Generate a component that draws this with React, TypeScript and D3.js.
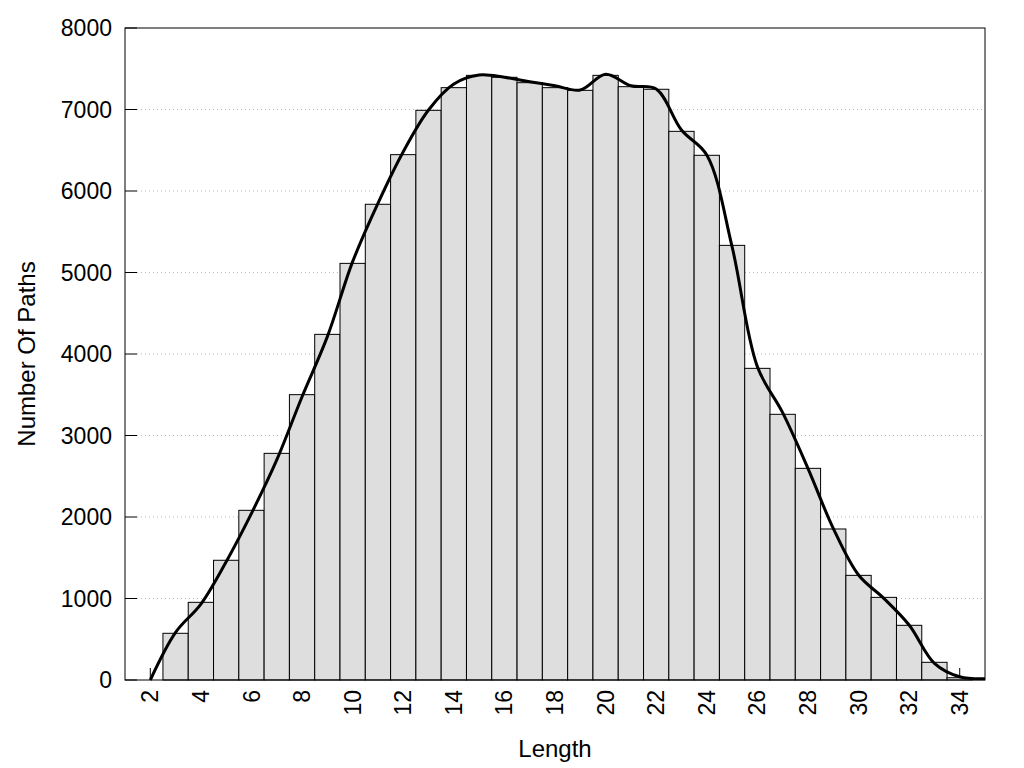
import * as d3 from "d3";

// path length -> number of paths (bars)
const lengths = [3, 4, 5, 6, 7, 8, 9, 10, 11, 12, 13, 14, 15, 16, 17, 18, 19, 20, 21, 22, 23, 24, 25, 26, 27, 28, 29, 30, 31, 32, 33, 34];
const counts = [573, 953, 1469, 2082, 2781, 3501, 4241, 5112, 5837, 6446, 6990, 7268, 7419, 7395, 7329, 7268, 7235, 7419, 7280, 7248, 6732, 6438, 5333, 3824, 3260, 2597, 1853, 1284, 1014, 671, 217, 28];

// smoothed curve
const curveX = [2, 3, 4, 5, 6, 7, 8, 9, 10, 11, 12, 13, 14, 15, 16, 17, 18, 19, 20, 21, 22, 23, 24, 25, 26, 27, 28, 29, 30, 31, 32, 33, 34, 35];
const curveY = [0, 585, 932, 1452, 2045, 2700, 3476, 4213, 5133, 5849, 6482, 6994, 7313, 7423, 7395, 7341, 7292, 7239, 7432, 7292, 7252, 6748, 6442, 5317, 3845, 3280, 2597, 1861, 1288, 1002, 675, 205, 40, 15];

const xTicks = [2, 4, 6, 8, 10, 12, 14, 16, 18, 20, 22, 24, 26, 28, 30, 32, 34];
const yTicks = [0, 1000, 2000, 3000, 4000, 5000, 6000, 7000, 8000];

const W = 1024;
const H = 768;
const left = 125;
const right = 985;
const top = 28;
const bottom = 680;
const tickLen = 12;
const font = "'Liberation Sans', Arial, Helvetica, sans-serif";

export default function App() {
  const x = d3.scaleLinear().domain([1, 35]).range([left, right]);
  const y = d3.scaleLinear().domain([0, 8000]).range([bottom, top]);
  const bw = x(1.5) - x(1);

  const line = d3
    .line<number>()
    .x((_, i) => x(curveX[i]))
    .y((d) => y(d))
    .curve(d3.curveCatmullRom.alpha(0.5));

  return (
    <svg
      width={W}
      height={H}
      style={{ position: "absolute", left: 0, top: 0, background: "#fff" }}
      fontFamily={font}
    >
      {/* grid */}
      {yTicks
        .filter((t) => t > 0 && t < 8000)
        .map((t) => (
          <line
            key={"g" + t}
            x1={left + tickLen}
            x2={right}
            y1={y(t)}
            y2={y(t)}
            stroke="#bbbbbb"
            strokeWidth={1}
            strokeDasharray="1,3"
          />
        ))}

      {/* inward ticks */}
      {yTicks.map((t) => (
        <line key={"yt" + t} x1={left} x2={left + tickLen} y1={y(t)} y2={y(t)} stroke="#000" strokeWidth={1} />
      ))}
      {xTicks.map((t) => (
        <line key={"xt" + t} x1={x(t)} x2={x(t)} y1={bottom} y2={bottom - tickLen} stroke="#000" strokeWidth={1} />
      ))}

      {/* bars */}
      {lengths.map((l, i) => (
        <rect
          key={"b" + l}
          x={x(l) - bw}
          y={y(counts[i])}
          width={bw * 2}
          height={bottom - y(counts[i])}
          fill="#dedede"
          stroke="#000"
          strokeWidth={1}
        />
      ))}

      {/* smooth curve */}
      <path d={line(curveY) ?? ""} fill="none" stroke="#000" strokeWidth={3} strokeLinejoin="round" />

      {/* frame */}
      <rect x={left} y={top} width={right - left} height={bottom - top} fill="none" stroke="#000" strokeWidth={1} />

      {/* tick labels */}
      {yTicks.map((t) => (
        <text key={"yl" + t} x={left - 13} y={y(t)} dy="0.35em" textAnchor="end" fontSize={23}>
          {t}
        </text>
      ))}
      {xTicks.map((t) => (
        <text
          key={"xl" + t}
          transform={`translate(${x(t)},${bottom + 10}) rotate(-90)`}
          textAnchor="end"
          dy="0.35em"
          fontSize={23}
        >
          {t}
        </text>
      ))}

      {/* axis titles */}
      <text x={(left + right) / 2} y={757} textAnchor="middle" fontSize={24}>
        Length
      </text>
      <text transform={`translate(35,${(top + bottom) / 2}) rotate(-90)`} textAnchor="middle" fontSize={24}>
        Number Of Paths
      </text>
    </svg>
  );
}
